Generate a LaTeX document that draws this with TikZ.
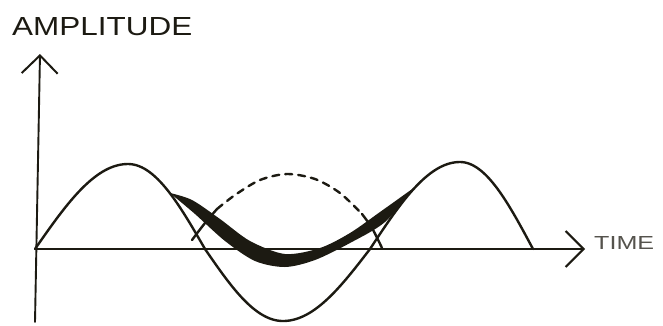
\documentclass[tikz,border=0pt]{standalone}
\usepackage{fontspec}
\setsansfont{Liberation Sans}
\usetikzlibrary{arrows.meta}
\definecolor{ink}{HTML}{1C1A12}

\begin{document}
\begin{tikzpicture}[x=1pt,y=-1pt,line cap=round,line join=round,
  wave/.style={ink,line width=2.4pt},
  axis/.style={ink,line width=1.9pt,-{Straight Barb[length=18pt,width=36pt,line width=2pt]}}]
\useasboundingbox (0,0) rectangle (663,325);
% Axes
\coordinate (ybot) at (35,322);
\coordinate (ytip) at (40,54);
\coordinate (origin) at (35,249);
\coordinate (xtip) at (585,249);
\draw[axis] (ybot) -- (ytip);
\draw[axis] (origin) -- (xtip);
\node[anchor=south west,inner sep=0pt,text=ink] (amplabel) at (12,36) {\resizebox{180pt}{18pt}{\sffamily AMPLITUDE}};
\node[anchor=west,inner sep=0pt,text=ink!75] (timelabel) at (594,243) {\resizebox{60pt}{13pt}{\sffamily TIME}};
% Original wave, one quarter at a time
\draw[wave,samples=40] plot[domain=35:128] (\x,{249-85*sin(90*(\x-35)/93)})
  -- plot[domain=128:205] (\x,{249-85*cos(90*(\x-128)/77)})
  -- plot[domain=205:283] (\x,{249+72*sin(90*(\x-205)/78)})
  -- plot[domain=283:370] (\x,{249+72*cos(90*(\x-283)/87)})
  -- plot[domain=370:460] (\x,{249-87*sin(90*(\x-370)/90)})
  -- plot[domain=460:533] (\x,{249-87*cos(90*(\x-460)/73)});
% Shifted wave, upper half
\draw[wave] plot[smooth] coordinates {(192,240) (205,223) (217,209)};
\draw[wave,dash pattern=on 7pt off 6pt] plot[smooth] coordinates {(217,209) (235,195) (260,180) (287,174) (315,179) (340,193) (362,214)};
\draw[wave] plot[smooth] coordinates {(362,214) (372,228) (382,248)};
% Resultant
\fill[ink] plot[smooth] coordinates {(170,193) (192,200) (220,219) (250,241) (285,254) (320,248) (350,233) (380,212) (415,187)}
  -- plot[smooth] coordinates {(415,187) (385,222) (350,243) (315,260) (285,267) (255,261) (225,241) (195,214) (170,193)} -- cycle;
\end{tikzpicture}
\end{document}
